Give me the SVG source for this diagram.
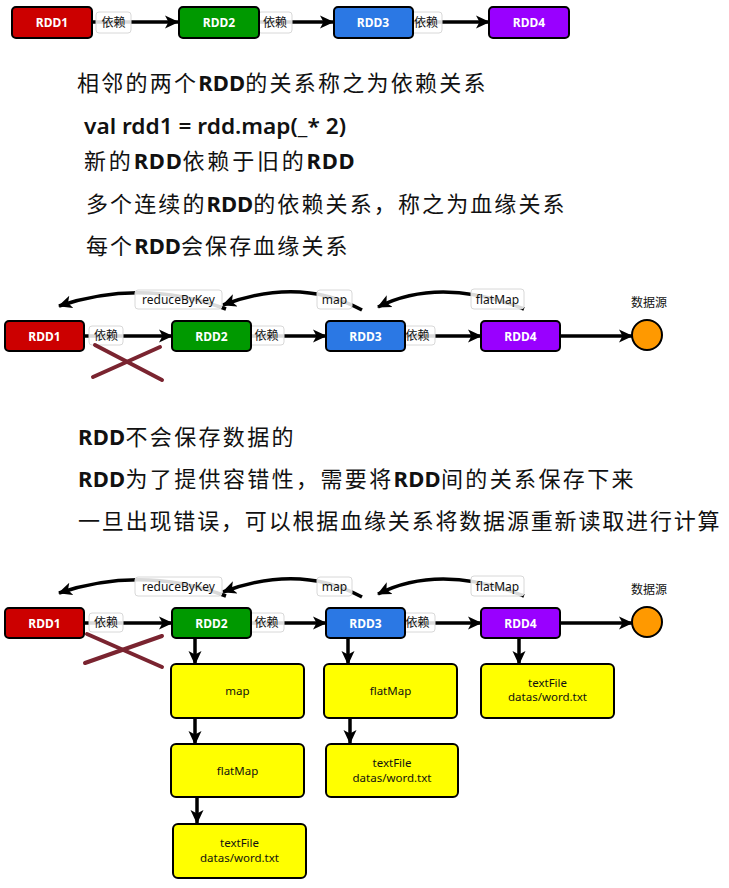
<svg xmlns="http://www.w3.org/2000/svg" width="729" height="888" viewBox="0 0 729 888">
<defs>
<style>
.rdd{stroke:#000;stroke-width:2}
.rt{fill:#fff;font-family:"Noto Sans","Noto Sans CJK SC",sans-serif;font-size:12px;font-weight:bold;text-anchor:middle}
.lbl{fill:#fff;fill-opacity:0.85;stroke:#d8d8d8;stroke-width:1}
.lt{fill:#111;font-family:"Noto Sans","Noto Sans CJK SC",sans-serif;font-size:12px;text-anchor:middle}
.con{fill:none;stroke:#000;stroke-width:3.5;marker-end:url(#ah)}
.yb{fill:#ffff00;stroke:#000;stroke-width:2}
.yt{fill:#111;font-family:"Noto Sans","Noto Sans CJK SC",sans-serif;font-size:11.5px;text-anchor:middle}
.main{fill:#111;font-family:"Noto Sans","Noto Sans CJK SC",sans-serif;font-size:22px;letter-spacing:2.4px}
.code{fill:#111;font-family:"Noto Sans",sans-serif;font-size:22px;font-weight:600}
.b{font-weight:bold;letter-spacing:0.3px}
.cross{stroke:#7a2430;stroke-width:4;stroke-linecap:round}
.src{fill:#ff9900;stroke:#000;stroke-width:2}
</style>
<marker id="ah" viewBox="0 0 14 14" refX="13" refY="7" markerWidth="14" markerHeight="14" markerUnits="userSpaceOnUse" orient="auto">
<path d="M0,0.5 L14,7 L0,13.5 L3.5,7 z" fill="#000"/>
</marker>
</defs>
<rect width="729" height="888" fill="#fff"/>

<!-- Top row -->
<g id="connectors-top">
<line class="con" x1="92" y1="22" x2="178" y2="22"/>
<line class="con" x1="259" y1="22" x2="333" y2="22"/>
<line class="con" x1="413" y1="22" x2="489" y2="22"/>
<rect class="lbl" x="96" y="12" width="35" height="21" rx="3"/>
<text class="lt" x="113.5" y="27" font-size="12.5">依赖</text>
<rect class="lbl" x="258" y="12" width="34" height="21" rx="3"/>
<text class="lt" x="275" y="27" font-size="12.5">依赖</text>
<rect class="lbl" x="410" y="12" width="32" height="21" rx="3"/>
<text class="lt" x="426" y="27" font-size="12.5">依赖</text>
</g>
<g id="t-rdd1"><rect class="rdd" x="12" y="7" width="80" height="31" rx="4" fill="#cc0000"/><text class="rt" x="52" y="27">RDD1</text></g>
<g id="t-rdd2"><rect class="rdd" x="179" y="7" width="80" height="31" rx="4" fill="#009900"/><text class="rt" x="219" y="27">RDD2</text></g>
<g id="t-rdd3"><rect class="rdd" x="334" y="7" width="79" height="31" rx="4" fill="#2b78e4"/><text class="rt" x="373" y="27">RDD3</text></g>
<g id="t-rdd4"><rect class="rdd" x="489" y="7" width="80" height="31" rx="4" fill="#9900ff"/><text class="rt" x="529" y="27">RDD4</text></g>

<!-- Text block 1 -->
<g id="text1">
<text class="main" x="77" y="91" textLength="411" lengthAdjust="spacing">相邻的两个<tspan class="b">RDD</tspan>的关系称之为依赖关系</text>
<text class="code" x="84" y="134" textLength="262" lengthAdjust="spacingAndGlyphs">val rdd1 = rdd.map(_* 2)</text>
<text class="main" x="84" y="169" textLength="271" lengthAdjust="spacing">新的<tspan class="b">RDD</tspan>依赖于旧的<tspan class="b">RDD</tspan></text>
<text class="main" x="86" y="212" textLength="481" lengthAdjust="spacing">多个连续的<tspan class="b">RDD</tspan>的依赖关系，称之为血缘关系</text>
<text class="main" x="86" y="254" textLength="264" lengthAdjust="spacing">每个<tspan class="b">RDD</tspan>会保存血缘关系</text>
</g>

<!-- Middle diagram -->
<g id="connectors-mid">
<line class="con" x1="84" y1="336" x2="172" y2="336"/>
<line class="con" x1="251" y1="336" x2="326" y2="336"/>
<line class="con" x1="405" y1="336" x2="481" y2="336"/>
<line class="con" x1="560" y1="336" x2="632" y2="336"/>
<path class="con" d="M226,309 Q142,278 59,306"/>
<path class="con" d="M362,310 Q300,276 223,305"/>
<path class="con" d="M524,309 Q440,276 378,307"/>
<rect class="lbl" x="89" y="326" width="34" height="19" rx="3"/>
<text class="lt" x="106" y="340">依赖</text>
<rect class="lbl" x="249" y="326" width="35" height="19" rx="3"/>
<text class="lt" x="266.5" y="340">依赖</text>
<rect class="lbl" x="400" y="326" width="35" height="19" rx="3"/>
<text class="lt" x="417.5" y="340">依赖</text>
<rect class="lbl" x="135" y="290" width="87" height="19" rx="3"/>
<text class="lt" x="178.5" y="304">reduceByKey</text>
<rect class="lbl" x="317" y="290" width="35" height="19" rx="3"/>
<text class="lt" x="334.5" y="304">map</text>
<rect class="lbl" x="471" y="289" width="53" height="20" rx="3"/>
<text class="lt" x="497.5" y="303.5">flatMap</text>
</g>
<g id="m-rdd1"><rect class="rdd" x="5" y="321" width="79" height="30" rx="4" fill="#cc0000"/><text class="rt" x="44.5" y="340.5">RDD1</text></g>
<g id="m-rdd2"><rect class="rdd" x="172" y="321" width="79" height="30" rx="4" fill="#009900"/><text class="rt" x="211.5" y="340.5">RDD2</text></g>
<g id="m-rdd3"><rect class="rdd" x="326" y="321" width="79" height="30" rx="4" fill="#2b78e4"/><text class="rt" x="365.5" y="340.5">RDD3</text></g>
<g id="m-rdd4"><rect class="rdd" x="481" y="321" width="79" height="30" rx="4" fill="#9900ff"/><text class="rt" x="520.5" y="340.5">RDD4</text></g>
<g id="m-src"><circle class="src" cx="647" cy="335" r="15"/><text class="lt" x="649" y="306.5" font-size="12.5">数据源</text></g>
<g id="m-cross"><line class="cross" x1="95" y1="345" x2="162" y2="380"/><line class="cross" x1="160" y1="347" x2="93" y2="377"/></g>

<!-- Text block 2 -->
<g id="text2">
<text class="main" x="78" y="445" textLength="218" lengthAdjust="spacing"><tspan class="b">RDD</tspan>不会保存数据的</text>
<text class="main" x="78" y="487" textLength="558" lengthAdjust="spacing"><tspan class="b">RDD</tspan>为了提供容错性，需要将<tspan class="b">RDD</tspan>间的关系保存下来</text>
<text class="main" x="78" y="529" textLength="644" lengthAdjust="spacing">一旦出现错误，可以根据血缘关系将数据源重新读取进行计算</text>
</g>

<!-- Bottom diagram -->
<g id="connectors-bot">
<line class="con" x1="84" y1="623" x2="172" y2="623"/>
<line class="con" x1="251" y1="623" x2="326" y2="623"/>
<line class="con" x1="405" y1="623" x2="481" y2="623"/>
<line class="con" x1="560" y1="623" x2="632" y2="623"/>
<path class="con" d="M226,596 Q142,565 59,593"/>
<path class="con" d="M362,597 Q300,563 223,592"/>
<path class="con" d="M524,596 Q440,563 378,594"/>
<line class="con" x1="195" y1="638" x2="195" y2="664"/>
<line class="con" x1="348" y1="638" x2="348" y2="664"/>
<line class="con" x1="519" y1="638" x2="519" y2="664"/>
<line class="con" x1="195" y1="718" x2="195" y2="744"/>
<line class="con" x1="197" y1="792" x2="197" y2="823"/>
<line class="con" x1="350" y1="712" x2="350" y2="743"/>
<rect class="lbl" x="89" y="613" width="34" height="19" rx="3"/>
<text class="lt" x="106" y="627">依赖</text>
<rect class="lbl" x="249" y="613" width="35" height="19" rx="3"/>
<text class="lt" x="266.5" y="627">依赖</text>
<rect class="lbl" x="400" y="613" width="35" height="19" rx="3"/>
<text class="lt" x="417.5" y="627">依赖</text>
<rect class="lbl" x="135" y="577" width="87" height="19" rx="3"/>
<text class="lt" x="178.5" y="591">reduceByKey</text>
<rect class="lbl" x="317" y="577" width="35" height="19" rx="3"/>
<text class="lt" x="334.5" y="591">map</text>
<rect class="lbl" x="471" y="576" width="53" height="20" rx="3"/>
<text class="lt" x="497.5" y="590.5">flatMap</text>
</g>
<g id="b-rdd1"><rect class="rdd" x="5" y="608" width="79" height="30" rx="4" fill="#cc0000"/><text class="rt" x="44.5" y="627.5">RDD1</text></g>
<g id="b-rdd2"><rect class="rdd" x="172" y="608" width="79" height="30" rx="4" fill="#009900"/><text class="rt" x="211.5" y="627.5">RDD2</text></g>
<g id="b-rdd3"><rect class="rdd" x="326" y="608" width="79" height="30" rx="4" fill="#2b78e4"/><text class="rt" x="365.5" y="627.5">RDD3</text></g>
<g id="b-rdd4"><rect class="rdd" x="481" y="608" width="79" height="30" rx="4" fill="#9900ff"/><text class="rt" x="520.5" y="627.5">RDD4</text></g>
<g id="b-src"><circle class="src" cx="647" cy="622" r="15"/><text class="lt" x="649" y="593.5" font-size="12.5">数据源</text></g>
<g id="b-cross"><line class="cross" x1="87" y1="634" x2="162" y2="667"/><line class="cross" x1="162" y1="636" x2="85" y2="663"/></g>

<g id="b-map"><rect class="yb" x="171" y="664" width="133" height="54" rx="5"/><text class="yt" x="237.5" y="695">map</text></g>
<g id="b-flatmap1"><rect class="yb" x="171" y="744" width="133" height="53" rx="5"/><text class="yt" x="237.5" y="775">flatMap</text></g>
<g id="b-textfile1"><rect class="yb" x="173" y="824" width="133" height="54" rx="5"/><text class="yt" x="239.5" y="847">textFile</text><text class="yt" x="239.5" y="862">datas/word.txt</text></g>
<g id="b-flatmap2"><rect class="yb" x="324" y="664" width="133" height="54" rx="5"/><text class="yt" x="390.5" y="695">flatMap</text></g>
<g id="b-textfile2"><rect class="yb" x="326" y="744" width="132" height="53" rx="5"/><text class="yt" x="392" y="767">textFile</text><text class="yt" x="392" y="782">datas/word.txt</text></g>
<g id="b-textfile3"><rect class="yb" x="481" y="664" width="133" height="54" rx="5"/><text class="yt" x="547.5" y="687">textFile</text><text class="yt" x="547.5" y="701">datas/word.txt</text></g>
</svg>
